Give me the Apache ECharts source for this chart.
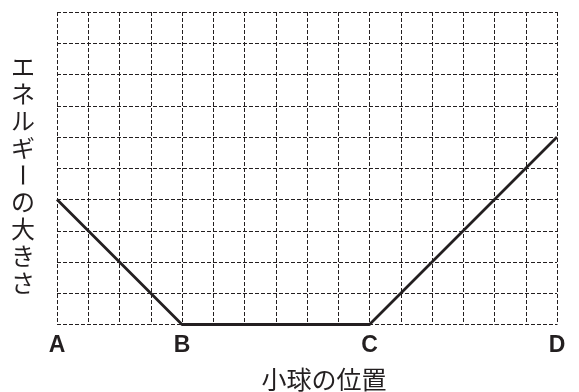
<!DOCTYPE html>
<html>
<head>
<meta charset="utf-8">
<script src="https://cdn.jsdelivr.net/npm/echarts@6/dist/echarts.min.js"></script>
<style>
html,body{margin:0;padding:0;background:#fff;}
#chart{width:579px;height:392px;}
</style>
</head>
<body>
<div id="chart"></div>
<script>
// 小球の位置 (grid columns) and energy (grid rows)
var positions = [0, 4, 10, 16];
var energy = [4, 0, 0, 6];
var pointNames = ['A', 'B', 'C', 'D'];
var xName = '小球の位置';
var yName = 'エネルギーの大きさ';

var ink = '#231f20';
var gridLine = {show: true, lineStyle: {color: ink, width: 1, type: [4, 2]}};

var lineData = [];
for (var i = 0; i < positions.length; i++) {
    lineData.push([positions[i], energy[i]]);
}

// 縦書きの軸名
var yTitle = [];
for (var k = 0; k < yName.length; k++) {
    var ch = yName.charAt(k);
    yTitle.push({
        type: 'text',
        x: 23,
        y: 67 + k * 27,
        rotation: ch === 'ー' ? -Math.PI / 2 : 0,
        style: {
            text: ch,
            font: '24px "Noto Sans CJK JP"',
            fill: ink,
            align: 'center',
            verticalAlign: 'middle'
        }
    });
}

var myChart = echarts.init(document.getElementById('chart'));
var option = {
    animation: false,
    backgroundColor: '#fff',
    grid: {left: 57, top: 12, width: 500, height: 312.5, outerBoundsMode: 'none', containLabel: false},
    graphic: yTitle,
    xAxis: {
        type: 'value',
        min: 0,
        max: 16,
        interval: 1,
        name: xName,
        nameLocation: 'middle',
        nameGap: 42,
        nameTextStyle: {
            color: ink,
            fontSize: 25,
            fontFamily: 'Noto Sans CJK JP',
            padding: [0, 0, 0, 34]
        },
        axisLine: {show: false},
        axisTick: {show: false},
        splitLine: gridLine,
        axisLabel: {
            margin: 10,
            color: ink,
            fontSize: 23,
            fontWeight: 'bold',
            fontFamily: 'Liberation Sans',
            formatter: function (v) {
                var idx = positions.indexOf(v);
                return idx >= 0 ? pointNames[idx] : '';
            }
        }
    },
    yAxis: {
        type: 'value',
        min: 0,
        max: 10,
        interval: 1,
        axisLine: {show: false},
        axisTick: {show: false},
        axisLabel: {show: false},
        splitLine: gridLine
    },
    series: [{
        type: 'line',
        data: lineData,
        symbol: 'none',
        lineStyle: {color: ink, width: 2.8},
        z: 5
    }]
};
myChart.setOption(option);
</script>
</body>
</html>
